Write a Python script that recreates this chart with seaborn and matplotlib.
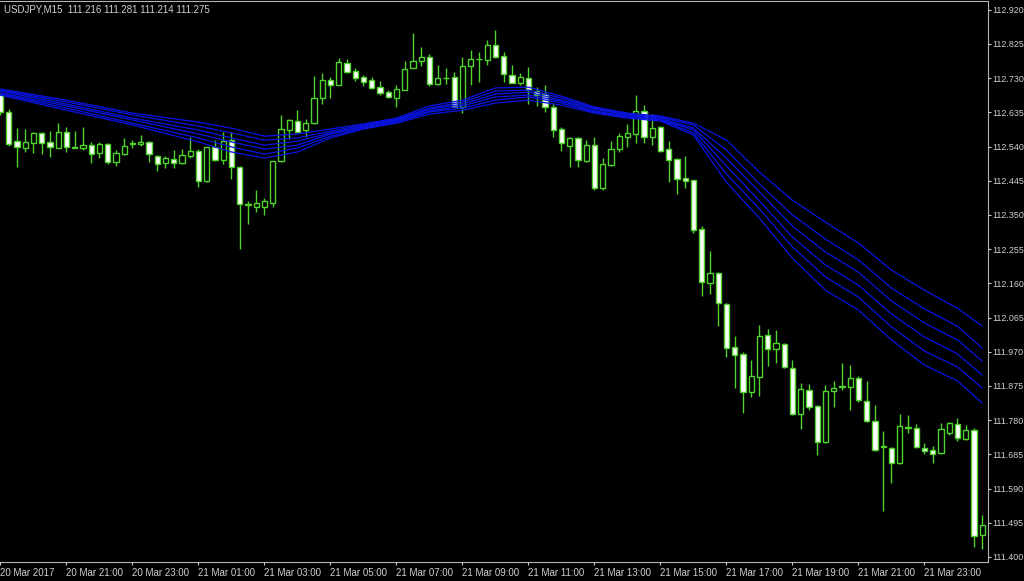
import numpy as np
import pandas as pd
import seaborn as sns
import matplotlib.pyplot as plt

sns.set_style('ticks', {'axes.facecolor': 'black', 'figure.facecolor': 'black'})
plt.rcParams['font.family'] = ['Liberation Sans', 'DejaVu Sans']

# USDJPY M15 candles, 20 Mar 19:00 onwards
opens = [
    112.683, 112.636, 112.555, 112.536, 112.550, 112.578, 112.553, 112.536, 112.580, 112.539,
    112.536, 112.544, 112.522, 112.547, 112.497, 112.519, 112.550, 112.547, 112.553, 112.514,
    112.494, 112.505, 112.494, 112.514, 112.528, 112.444, 112.539, 112.503, 112.558, 112.483,
    112.380, 112.372, 112.372, 112.383, 112.500, 112.586, 112.611, 112.586, 112.605, 112.675,
    112.725, 112.711, 112.772, 112.750, 112.733, 112.725, 112.705, 112.691, 112.675, 112.697,
    112.758, 112.778, 112.789, 112.714, 112.730, 112.733, 112.650, 112.764, 112.783, 112.780,
    112.822, 112.791, 112.739, 112.716, 112.730, 112.694, 112.686, 112.650, 112.589, 112.541,
    112.564, 112.500, 112.544, 112.425, 112.489, 112.533, 112.566, 112.575, 112.639, 112.566,
    112.594, 112.533, 112.505, 112.453, 112.447, 112.311, 112.161, 112.189, 112.103, 111.983,
    111.964, 111.858, 111.900, 112.016, 111.978, 111.992, 111.925, 111.797, 111.864, 111.819,
    111.719, 111.861, 111.872, 111.872, 111.897, 111.833, 111.778, 111.708, 111.703, 111.661,
    111.761, 111.758, 111.703, 111.697, 111.689, 111.744, 111.769, 111.728, 111.753, 111.461,
]
highs = [
    112.689, 112.644, 112.591, 112.589, 112.580, 112.580, 112.583, 112.605, 112.594, 112.583,
    112.594, 112.553, 112.553, 112.550, 112.530, 112.564, 112.558, 112.572, 112.555, 112.516,
    112.514, 112.530, 112.533, 112.566, 112.533, 112.539, 112.558, 112.580, 112.580, 112.486,
    112.389, 112.419, 112.397, 112.500, 112.628, 112.616, 112.641, 112.616, 112.736, 112.744,
    112.733, 112.786, 112.783, 112.758, 112.739, 112.733, 112.722, 112.697, 112.711, 112.778,
    112.855, 112.816, 112.797, 112.766, 112.758, 112.747, 112.789, 112.808, 112.803, 112.836,
    112.864, 112.803, 112.766, 112.744, 112.761, 112.705, 112.711, 112.661, 112.594, 112.566,
    112.566, 112.558, 112.566, 112.508, 112.555, 112.578, 112.603, 112.683, 112.655, 112.630,
    112.597, 112.555, 112.508, 112.514, 112.447, 112.319, 112.250, 112.192, 112.105, 112.014,
    111.969, 111.947, 112.044, 112.033, 112.030, 111.994, 111.947, 111.883, 111.880, 111.822,
    111.878, 111.889, 111.939, 111.933, 111.903, 111.889, 111.822, 111.750, 111.705, 111.797,
    111.794, 111.769, 111.716, 111.708, 111.772, 111.775, 111.786, 111.766, 111.758, 111.517,
]
lows = [
    112.628, 112.541, 112.483, 112.525, 112.522, 112.519, 112.511, 112.536, 112.525, 112.536,
    112.530, 112.494, 112.508, 112.491, 112.486, 112.516, 112.536, 112.541, 112.497, 112.472,
    112.480, 112.480, 112.491, 112.508, 112.428, 112.441, 112.500, 112.491, 112.450, 112.255,
    112.325, 112.358, 112.350, 112.372, 112.497, 112.561, 112.578, 112.566, 112.603, 112.658,
    112.675, 112.711, 112.744, 112.722, 112.708, 112.700, 112.683, 112.675, 112.650, 112.697,
    112.758, 112.764, 112.708, 112.711, 112.714, 112.650, 112.633, 112.711, 112.719, 112.766,
    112.786, 112.719, 112.716, 112.711, 112.658, 112.653, 112.636, 112.566, 112.528, 112.483,
    112.483, 112.497, 112.419, 112.419, 112.486, 112.525, 112.539, 112.550, 112.550, 112.544,
    112.525, 112.441, 112.408, 112.425, 112.300, 112.125, 112.130, 112.041, 111.955, 111.869,
    111.800, 111.844, 111.847, 111.930, 111.939, 111.925, 111.794, 111.755, 111.808, 111.683,
    111.716, 111.816, 111.864, 111.808, 111.830, 111.775, 111.694, 111.528, 111.605, 111.658,
    111.744, 111.703, 111.686, 111.661, 111.686, 111.739, 111.722, 111.725, 111.428, 111.422,
]
closes = [
    112.636, 112.547, 112.539, 112.553, 112.578, 112.550, 112.539, 112.580, 112.539, 112.537,
    112.544, 112.519, 112.547, 112.497, 112.522, 112.541, 112.547, 112.553, 112.519, 112.491,
    112.508, 112.494, 112.516, 112.528, 112.444, 112.539, 112.503, 112.555, 112.483, 112.380,
    112.378, 112.383, 112.389, 112.500, 112.589, 112.614, 112.580, 112.605, 112.675, 112.725,
    112.711, 112.775, 112.747, 112.730, 112.719, 112.703, 112.689, 112.678, 112.700, 112.755,
    112.778, 112.789, 112.714, 112.730, 112.731, 112.650, 112.764, 112.783, 112.784, 112.822,
    112.789, 112.741, 112.716, 112.733, 112.697, 112.683, 112.650, 112.586, 112.550, 112.564,
    112.503, 112.544, 112.425, 112.491, 112.533, 112.569, 112.578, 112.639, 112.566, 112.591,
    112.528, 112.503, 112.450, 112.444, 112.308, 112.164, 112.189, 112.105, 111.980, 111.961,
    111.858, 111.903, 112.014, 111.978, 111.994, 111.928, 111.797, 111.866, 111.816, 111.719,
    111.861, 111.869, 111.874, 111.897, 111.836, 111.778, 111.697, 111.705, 111.661, 111.764,
    111.758, 111.705, 111.694, 111.686, 111.755, 111.772, 111.730, 111.753, 111.458, 111.489,
]

# moving average ribbon, read at every few bars
ma_idx = [0, 8, 16, 24, 28, 32, 36, 40, 44, 48, 52, 56, 60, 64, 68, 72, 76, 80,
          84, 88, 92, 96, 100, 104, 108, 112, 116, 119]
ma_1 = [112.700, 112.669, 112.633, 112.608, 112.591, 112.569, 112.575, 112.589, 112.603, 112.619,
        112.653, 112.669, 112.703, 112.705, 112.680, 112.650, 112.633, 112.625, 112.605, 112.558,
        112.469, 112.391, 112.330, 112.272, 112.197, 112.141, 112.091, 112.041]
ma_2 = [112.697, 112.664, 112.628, 112.597, 112.578, 112.558, 112.564, 112.583, 112.600, 112.616,
        112.647, 112.664, 112.694, 112.697, 112.675, 112.647, 112.630, 112.622, 112.600, 112.530,
        112.436, 112.350, 112.283, 112.225, 112.147, 112.089, 112.041, 111.980]
ma_3 = [112.694, 112.658, 112.619, 112.586, 112.564, 112.544, 112.555, 112.578, 112.597, 112.614,
        112.644, 112.658, 112.686, 112.691, 112.669, 112.644, 112.628, 112.619, 112.591, 112.508,
        112.414, 112.319, 112.247, 112.191, 112.111, 112.050, 112.003, 111.944]
ma_4 = [112.689, 112.653, 112.614, 112.575, 112.553, 112.533, 112.544, 112.575, 112.594, 112.611,
        112.639, 112.653, 112.678, 112.683, 112.666, 112.639, 112.625, 112.616, 112.586, 112.486,
        112.389, 112.289, 112.211, 112.155, 112.075, 112.011, 111.964, 111.905]
ma_5 = [112.686, 112.647, 112.605, 112.564, 112.539, 112.519, 112.536, 112.569, 112.591, 112.608,
        112.636, 112.647, 112.669, 112.678, 112.661, 112.636, 112.622, 112.614, 112.578, 112.464,
        112.367, 112.261, 112.178, 112.122, 112.039, 111.972, 111.928, 111.869]
ma_6 = [112.683, 112.641, 112.600, 112.553, 112.525, 112.508, 112.525, 112.564, 112.589, 112.605,
        112.630, 112.641, 112.661, 112.669, 112.655, 112.633, 112.619, 112.611, 112.572, 112.441,
        112.341, 112.230, 112.141, 112.086, 112.003, 111.933, 111.889, 111.828]

time_ticks = [0, 8, 16, 24, 32, 40, 48, 56, 64, 72, 80, 88, 96, 104, 112]
time_labels = ['20 Mar 2017', '20 Mar 21:00', '20 Mar 23:00', '21 Mar 01:00', '21 Mar 03:00',
               '21 Mar 05:00', '21 Mar 07:00', '21 Mar 09:00', '21 Mar 11:00', '21 Mar 13:00',
               '21 Mar 15:00', '21 Mar 17:00', '21 Mar 19:00', '21 Mar 21:00', '21 Mar 23:00']
price_ticks = [111.400, 111.495, 111.590, 111.685, 111.780, 111.875, 111.970, 112.065, 112.160,
               112.255, 112.350, 112.445, 112.540, 112.635, 112.730, 112.825, 112.920]

green = '#4fd22c'
fg = '#d0d0d0'

fig = plt.figure(figsize=(10.24, 5.81), dpi=100)
ax = fig.add_axes([0, 19 / 581, 988 / 1024, 561 / 581])

idx = np.arange(len(opens))
o = np.array(opens)
c = np.array(closes)
up = c >= o

ax.vlines(idx, lows, highs, color=green, linewidth=1, zorder=2)
ax.bar(idx, np.abs(c - o), bottom=np.minimum(o, c), width=0.62,
       color=np.where(up, 'black', 'white'), edgecolor=green, linewidth=1, zorder=3)

ma = pd.DataFrame({'idx': ma_idx * 6,
                   'price': ma_1 + ma_2 + ma_3 + ma_4 + ma_5 + ma_6,
                   'line': np.repeat(['m1', 'm2', 'm3', 'm4', 'm5', 'm6'], len(ma_idx))})
sns.lineplot(data=ma, x='idx', y='price', hue='line', palette=['#0a14e6'] * 6,
             linewidth=0.9, legend=False, ax=ax, zorder=4)

ax.set_xlim(-0.06, 119.7)
ax.set_ylim(111.3861, 112.9444)
ax.yaxis.tick_right()
ax.set_yticks(price_ticks)
ax.set_yticklabels([f'{p:.3f}' for p in price_ticks])
ax.set_xticks(time_ticks)
ax.set_xticklabels(time_labels, ha='left')
ax.set_xlabel('')
ax.set_ylabel('')
ax.tick_params(axis='x', colors=fg, labelcolor=fg, length=2.5, width=0.8, pad=1.5, labelsize=7)
ax.tick_params(axis='y', colors=fg, labelcolor=fg, length=2.2, width=0.8, pad=0.8, labelsize=6.4)
ax.grid(False)
for side in ['top', 'right', 'bottom']:
    ax.spines[side].set_color('#b4b4b4')
    ax.spines[side].set_linewidth(0.8)
ax.spines['left'].set_visible(False)

fig.text(0.004, 1 - 9 / 581, 'USDJPY,M15  111.216 111.281 111.214 111.275',
         color=fg, fontsize=7, va='center', ha='left')

fig.savefig('out.png', dpi=100, facecolor='black')
